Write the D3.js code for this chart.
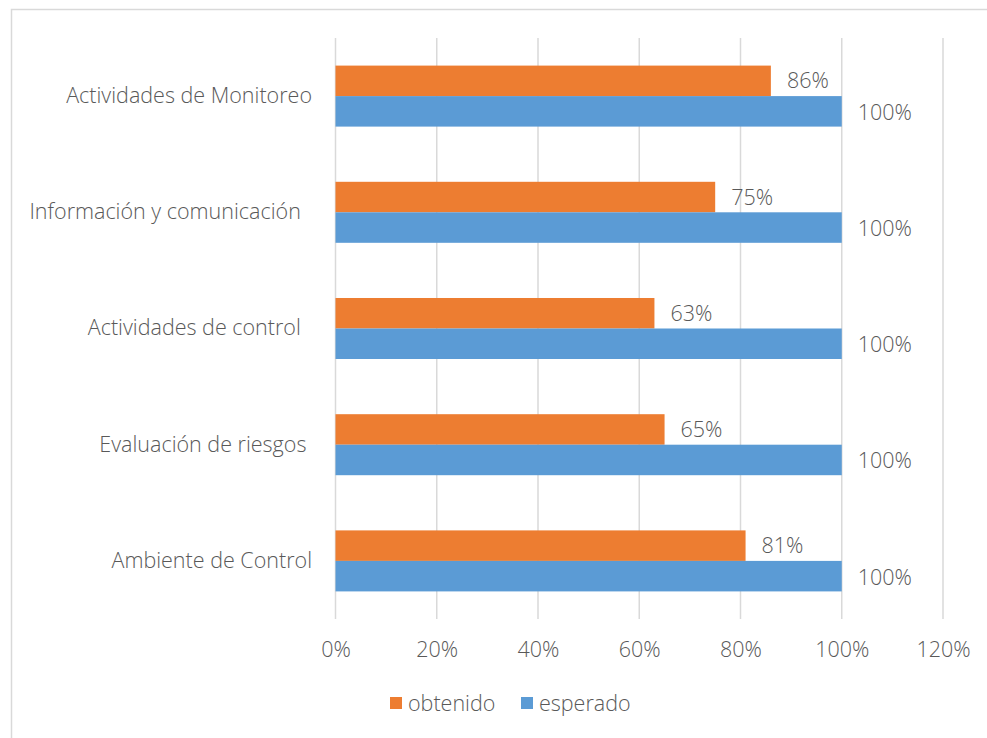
<!DOCTYPE html>
<html lang="es">
<head>
<meta charset="utf-8">
<script src="https://d3js.org/d3.v7.min.js"></script>
<style>
  body { margin: 0; background: #fff; }
  svg { font-family: "Open Sans", "Noto Sans", sans-serif; font-weight: 300; }
  .lbl { white-space: pre; }
</style>
<title>obtenido vs esperado</title>
</head>
<body>
<script>
// categories, top to bottom as drawn
let categories = ["Actividades de Monitoreo", "Información y comunicación  ", "Actividades de control  ", "Evaluación de riesgos ", "Ambiente de Control"];
let obtenido = [0.86, 0.75, 0.63, 0.65, 0.81];
let esperado = [1, 1, 1, 1, 1];
let tickValues = [0, 0.2, 0.4, 0.6, 0.8, 1, 1.2];
let seriesNames = ["obtenido", "esperado"];
let seriesColors = ["#ED7D31", "#5B9BD5"];

let width = 987, height = 738;
let textColor = "#595959";
let fontSize = "21.5px";

let svg = d3.select("body").append("svg")
  .attr("width", width)
  .attr("height", height);

// chart frame
svg.append("rect")
  .attr("x", 11.5).attr("y", 9.5)
  .attr("width", width + 10).attr("height", height + 10)
  .attr("fill", "none")
  .attr("stroke", "#D9D9D9")
  .attr("stroke-width", 1.5);

let x = d3.scaleLinear().domain([0, 1.2]).range([335.5, 943]);
let y = d3.scaleBand().domain(categories).range([38, 619])
  .paddingInner(0.475).paddingOuter(0.2375);
let ySub = d3.scaleBand().domain(seriesNames).range([0, y.bandwidth()]);

// vertical gridlines
svg.append("g")
  .selectAll("line")
  .data(tickValues)
  .enter()
  .append("line")
  .attr("x1", d => x(d)).attr("x2", d => x(d))
  .attr("y1", 38).attr("y2", 619)
  .attr("stroke", "#D9D9D9")
  .attr("stroke-width", 1.5);

// x axis labels
let xAxis = d3.axisBottom(x).tickValues(tickValues)
  .tickFormat(d3.format(".0%")).tickSize(0).tickPadding(0);
let gx = svg.append("g").attr("transform", "translate(0,642)").call(xAxis);
gx.select(".domain").remove();
gx.selectAll("text")
  .attr("fill", textColor)
  .attr("font-size", fontSize)
  .attr("font-family", "\"Open Sans\", sans-serif")
  .attr("font-weight", 300);

// y axis labels
let yAxis = d3.axisLeft(y).tickSize(0).tickPadding(0);
let gy = svg.append("g").attr("transform", "translate(312,0)").call(yAxis);
gy.select(".domain").remove();
gy.selectAll("text")
  .attr("class", "lbl")
  .attr("fill", textColor)
  .attr("font-size", fontSize)
  .attr("font-family", "\"Open Sans\", sans-serif")
  .attr("font-weight", 300);

// bars
let rows = categories.map((c, i) => ({cat: c, obtenido: obtenido[i], esperado: esperado[i]}));
let groups = svg.append("g")
  .selectAll("g")
  .data(rows)
  .enter()
  .append("g")
  .attr("transform", d => "translate(0," + y(d.cat) + ")");

seriesNames.forEach((s, k) => {
  groups.append("rect")
    .attr("x", x(0))
    .attr("y", ySub(s))
    .attr("width", d => x(d[s]) - x(0))
    .attr("height", ySub.bandwidth())
    .attr("fill", seriesColors[k]);

  groups.append("text")
    .attr("x", d => x(d[s]) + 16)
    .attr("y", ySub(s) + ySub.bandwidth() / 2 + (k === 1 ? 1 : 0))
    .attr("dy", "0.35em")
    .attr("fill", textColor)
    .attr("font-size", fontSize)
    .text(d => d3.format(".0%")(d[s]));
});

// legend
let legendX = [390, 521];
let legend = svg.append("g")
  .selectAll("g")
  .data(seriesNames)
  .enter()
  .append("g")
  .attr("transform", (d, i) => "translate(" + legendX[i] + ",697)");

legend.append("rect")
  .attr("width", 12).attr("height", 12)
  .attr("fill", (d, i) => seriesColors[i]);

legend.append("text")
  .attr("x", 18).attr("y", 6)
  .attr("dy", "0.35em")
  .attr("fill", textColor)
  .attr("font-size", fontSize)
  .text(d => d);
</script>
</body>
</html>
